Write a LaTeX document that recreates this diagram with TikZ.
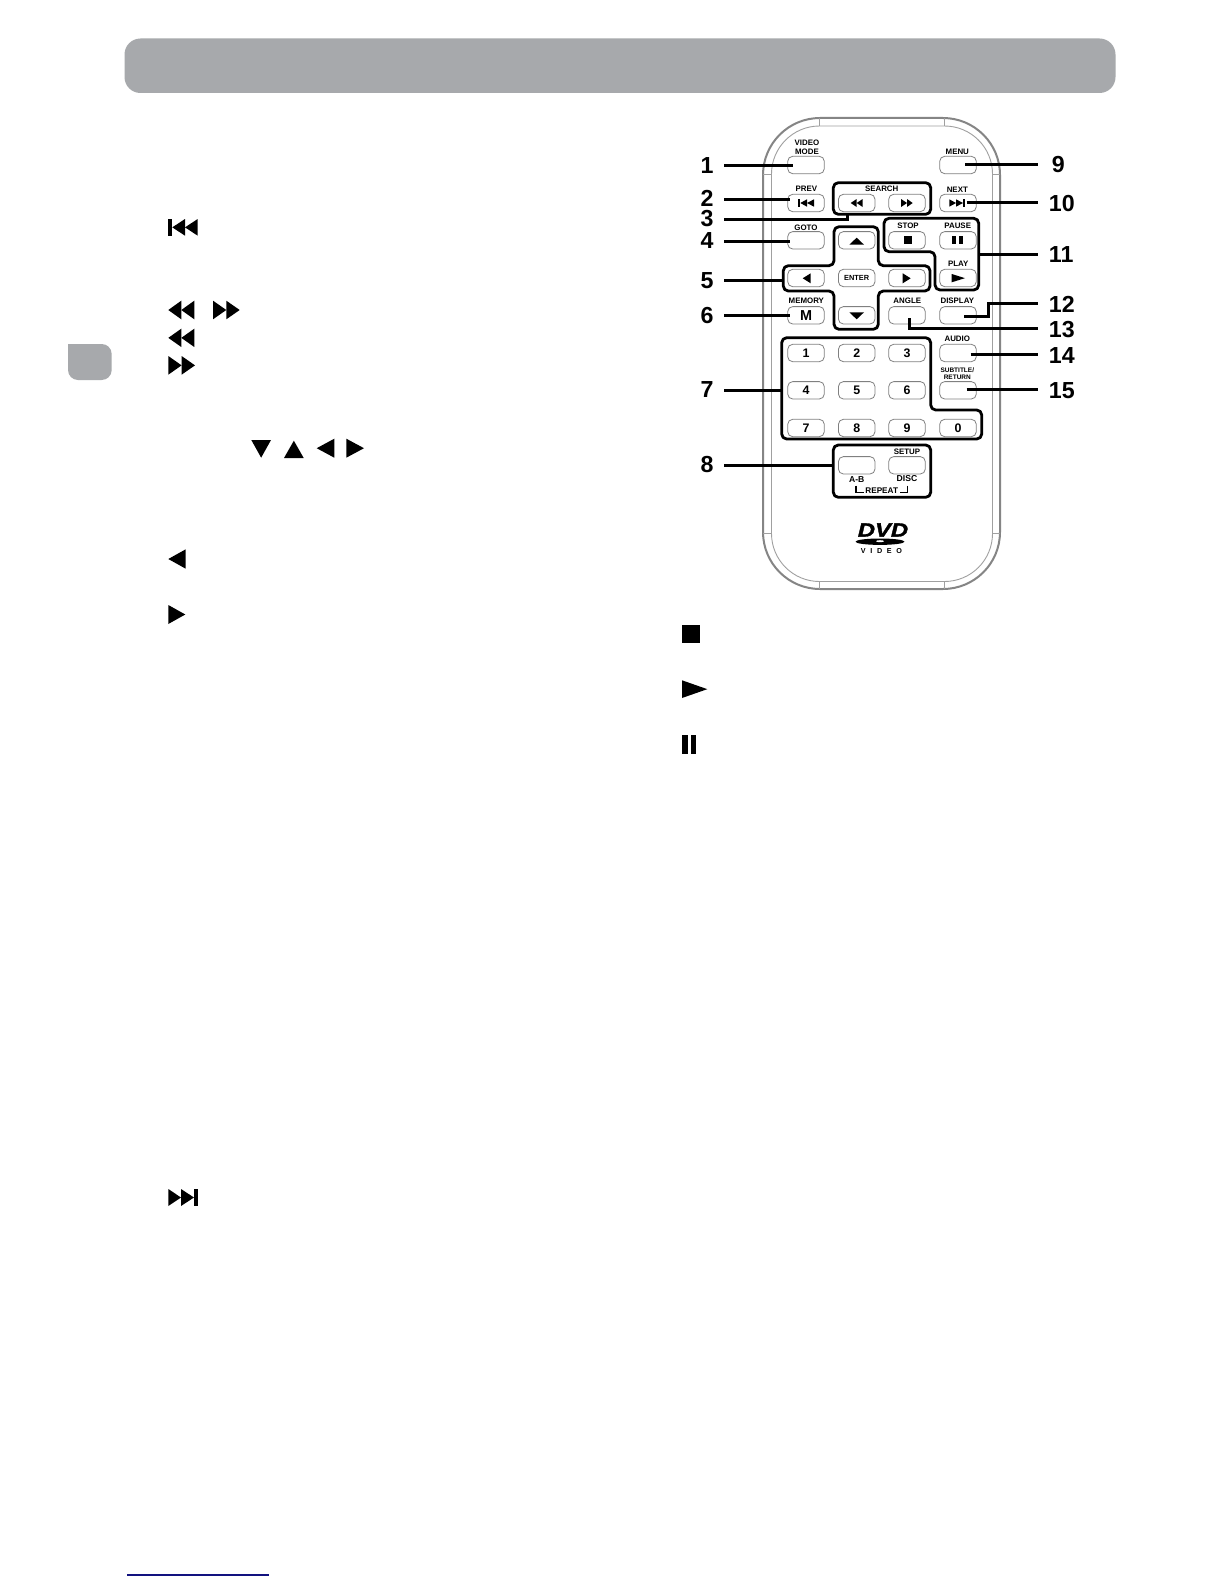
\documentclass[tikz,border=0pt]{standalone}
\usepackage{fontspec}
\setmainfont{Liberation Sans}
\newcommand{\fs}[1]{\fontsize{#1}{#1}\selectfont\bfseries}
\newcommand{\TL}[4]{\fill (#2,#3) -- (#1,{(#3+#4)/2}) -- (#2,#4) -- cycle;}
\newcommand{\TR}[4]{\fill (#1,#3) -- (#2,{(#3+#4)/2}) -- (#1,#4) -- cycle;}
\newcommand{\TU}[4]{\fill (#1,#4) -- ({(#1+#2)/2},#3) -- (#2,#4) -- cycle;}
\newcommand{\TD}[4]{\fill (#1,#3) -- ({(#1+#2)/2},#4) -- (#2,#3) -- cycle;}
\newcommand{\BX}[4]{\fill (#1,#3) rectangle (#2,#4);}
\tikzset{
  btn/.style={draw=btngrey,line width=0.4pt,rounded corners=2.5pt,minimum width=18.3pt,minimum height=8.7pt,inner sep=0pt,font=\fs{6.2}},
  lab/.style={inner sep=0pt,font=\fs{3.95}},
  lab2/.style={inner sep=0pt,font=\fs{3.25}},
  numl/.style={inner sep=0pt,font=\fs{11.6}},
  callout/.style={line width=1.5pt,line cap=butt},
  grp/.style={line width=1.4pt,rounded corners=2.5pt,line join=round},
}
\definecolor{banner}{HTML}{A7A9AC}
\definecolor{btngrey}{HTML}{808080}
\definecolor{bodyline}{HTML}{858585}
\definecolor{bodyin}{HTML}{A0A0A0}
\definecolor{navy}{HTML}{12127F}
\begin{document}
\begin{tikzpicture}[x=0.5pt,y=-0.5pt]
\useasboundingbox (0,0) rectangle (1224,1584);
\fill[white] (0,0) rectangle (1224,1584);
% page furniture
\fill[banner] (124.5,38.5) [rounded corners=8pt] rectangle (1115.5,93);
\fill[banner,rounded corners=5pt] (68,344) -- (111.7,344) -- (111.7,380) -- (68,380) [sharp corners] -- cycle;
\draw[navy,line width=0.55pt] (127,1575) -- (269,1575);
% text icons left
\BX{168.3}{172.3}{219}{235.7}\TL{172.3}{185}{219}{235.7}\TL{185}{197.7}{219}{235.7}
\TL{168.3}{181.3}{300.7}{319.3}\TL{181.3}{194.3}{300.7}{319.3}
\TR{213}{226.3}{300.7}{319.3}\TR{226.3}{239.7}{300.7}{319.3}
\TL{168.3}{181.3}{328.7}{347}\TL{181.3}{194.3}{328.7}{347}
\TR{168.3}{181.6}{356}{374.7}\TR{181.6}{195}{356}{374.7}
\TD{251.3}{271}{440}{457.7}
\TU{284}{303.7}{440.7}{458}
\TL{316.7}{334.3}{438.7}{457.7}
\TR{346.3}{364}{438.7}{457.7}
\TL{168.3}{185.7}{549.3}{568.7}
\TR{168.3}{185.3}{605}{624}
\TR{168.3}{181}{1189}{1206}\TR{181}{194}{1189}{1206}\BX{194}{197.7}{1189}{1206}
\BX{682}{700}{625}{643}
\TR{682}{707.3}{680.3}{698}
\BX{682}{688}{735}{754}\BX{691}{696}{735}{754}
% remote body
\draw[bodyline,line width=1pt,rounded corners=28.5pt] (763,118) rectangle (1000,589);
\draw[bodyin,line width=0.45pt,rounded corners=24pt] (771.5,126) rectangle (992.5,581.5);
\draw[bodyin,line width=0.4pt]
  (819,118) -- (819,126) (944,118) -- (944,126)
  (819,581.5) -- (819,589) (944,581.5) -- (944,589)
  (763,174) -- (771.5,174) (992.5,174) -- (1000,174)
  (763,533) -- (771.5,533) (992.5,533) -- (1000,533);
% buttons
\foreach \nm/\cx/\cy/\tx in {
  bvideo/806/165/{}, bmenu/958/165/{},
  bprev/806/203/{}, brew/856.7/203/{}, bff/907/203/{}, bnext/958/203/{},
  bgoto/806/240.3/{}, bup/856.7/240.3/{}, bstop/907/240.3/{}, bpause/958/240.3/{},
  bleft/806/278/{}, bright/907/278/{}, bplay/958/278/{},
  bmem/806/315.3/{}, bdown/856.7/315.3/{}, bangle/907/315.3/{}, bdisp/958/315.3/{},
  b1/806/353/1, b2/856.7/353/2, b3/907/353/3, baudio/958/353/{},
  b4/806/390.3/4, b5/856.7/390.3/5, b6/907/390.3/6, bsub/958/390.3/{},
  b7/806/428/7, b8/856.7/428/8, b9/907/428/9, b0/958/428/0,
  bab/856.7/465.3/{}, bsetup/907/465.3/{}}
  {\node[btn] (\nm) at (\cx,\cy) {\tx};}
\node[btn,font=\fs{3.7}] (benter) at (856.7,278) {ENTER};
\node[inner sep=0pt,font=\fs{7.2}] (mlabel) at (806,315.5) {M};
% button glyphs
\BX{798.3}{800.3}{199.3}{206.7}\TL{800.3}{807}{199.3}{206.7}\TL{807}{814}{199.3}{206.7}
\TL{850.7}{856.7}{199}{207}\TL{856.7}{862.7}{199}{207}
\TR{901}{907}{199}{207}\TR{907}{912.7}{199}{207}
\TR{949.3}{956}{199.3}{206.7}\TR{956}{963}{199.3}{206.7}\BX{963}{965}{199.3}{206.7}
\BX{904}{912}{236.3}{244.3}
\BX{952.3}{956}{236}{244}\BX{959.3}{963.3}{236}{244}
\TR{951.7}{965}{274}{282.3}
\TU{849.3}{864}{237.7}{244.7}
\TL{802.7}{810.7}{273.3}{283.3}
\TR{902.7}{910.7}{273.3}{283.3}
\TD{849.3}{864}{312.3}{319.3}
% button captions
\node[lab] (tvideo) at (807,142.8) {VIDEO};
\node[lab] (tmode) at (807,151.8) {MODE};
\node[lab] (tmenu) at (957.3,151.7) {MENU};
\node[lab] (tprev) at (806.3,189) {PREV};
\node[lab] (tsearch) at (881.7,189) {SEARCH};
\node[lab] (tnext) at (957.3,189.3) {NEXT};
\node[lab] (tgoto) at (806,227.3) {GOTO};
\node[lab] (tstop) at (908,226) {STOP};
\node[lab] (tpause) at (957.7,226) {PAUSE};
\node[lab] (tplay) at (958.3,264) {PLAY};
\node[lab] (tmem) at (806.3,301) {MEMORY};
\node[lab] (tangle) at (907.3,300.3) {ANGLE};
\node[lab] (tdisp) at (957.3,300.3) {DISPLAY};
\node[lab] (taudio) at (957.3,338.3) {AUDIO};
\node[lab2] (tsub) at (957.3,370.3) {SUBTITLE/};
\node[lab2] (tret) at (957.3,377.7) {RETURN};
\node[lab] (tsetup) at (907,451.7) {SETUP};
\node[lab,font=\fs{4.3}] (tab) at (856.7,479.3) {A-B};
\node[lab,font=\fs{4.3}] (tdisc) at (907,479) {DISC};
\node[lab,font=\fs{4.1}] (trepeat) at (881.7,491) {REPEAT};
\draw[line width=0.7pt] (856,485.7) -- (856,492.3) -- (864,492.3);
\draw[line width=0.7pt] (907.7,485.7) -- (907.7,492.3) -- (900,492.3);
% group outlines
\draw[grp] (833.3,182.7) rectangle (930.7,214.3);
\draw[grp] (834,226.7) -- (878.3,226.7) -- (878.3,265.7) -- (930,265.7) -- (930,291) -- (878.3,291) -- (878.3,329.3) -- (834,329.3) -- (834,291) -- (783.3,291) -- (783.3,265.7) -- (834,265.7) -- cycle;
\draw[grp] (884,218.3) -- (978.7,218.3) -- (978.7,290) -- (935,290) -- (935,251.7) -- (884,251.7) -- cycle;
\draw[grp] (781.7,337.7) -- (930.7,337.7) -- (930.7,410) -- (981.7,410) -- (981.7,439) -- (781.7,439) -- cycle;
\draw[grp] (833.3,445) rectangle (930.7,497.3);
% number labels
\foreach \nm/\tx/\cy in {n1/1/165.7,n2/2/198,n3/3/219,n4/4/241,n5/5/280.7,n6/6/315.7,n7/7/390,n8/8/465}
  {\node[numl] (\nm) at (707,\cy) {\tx};}
\node[numl] (n9) at (1058.3,165) {9};
\foreach \nm/\tx/\cy in {n10/10/204,n11/11/255,n12/12/304,n13/13/330,n14/14/355.7,n15/15/390.7}
  {\node[numl,anchor=west] (\nm) at (1048.5,\cy) {\tx};}
% callouts
\foreach \nm/\xa/\xb/\cy in {
  c1/724.3/792.7/165.3, c2/724.3/790/199, c4/724.3/790/241.3, c5/724.3/783.3/280.3,
  c6/724.3/790/315.7, c7/724.3/781.7/390, c8/724.3/833.3/465,
  c9/965/1037.7/164.3, c10/966.7/1037.7/202.3, c11/978.7/1037.7/254,
  c14/970.7/1037.7/354, c15/966.7/1037.7/389.7}
  {\coordinate (\nm a) at (\xa,\cy); \coordinate (\nm b) at (\xb,\cy); \draw[callout] (\nm a) -- (\nm b);}
\coordinate (c3a) at (724.3,219); \coordinate (c3b) at (847.3,214.3);
\draw[callout] (c3a) -- (847.3,219) -- (c3b);
\coordinate (c12a) at (964,316.7); \coordinate (c12b) at (1037.7,303.3);
\draw[callout] (c12a) -- (988.3,316.7) -- (988.3,303.3) -- (c12b);
\coordinate (c13a) at (909,318); \coordinate (c13b) at (1037.7,328.3);
\draw[callout] (c13a) -- (909,328.3) -- (c13b);
% DVD logo
\node[inner sep=0pt,font=\fontsize{9.6}{9.6}\selectfont\bfseries\itshape\addfontfeature{FakeBold=1.5},xscale=1.24,transform shape] (dvd) at (883,530) {DVD};
\fill (880,541.7) ellipse [x radius=24.5,y radius=3.2];
\fill[white] (880,541.2) ellipse [x radius=4,y radius=1];
\node[inner sep=0pt,font=\fontsize{3.6}{3.6}\selectfont\bfseries\addfontfeature{LetterSpace=65}] (dvdv) at (881.5,551.5) {VIDEO};
\end{tikzpicture}
\end{document}
